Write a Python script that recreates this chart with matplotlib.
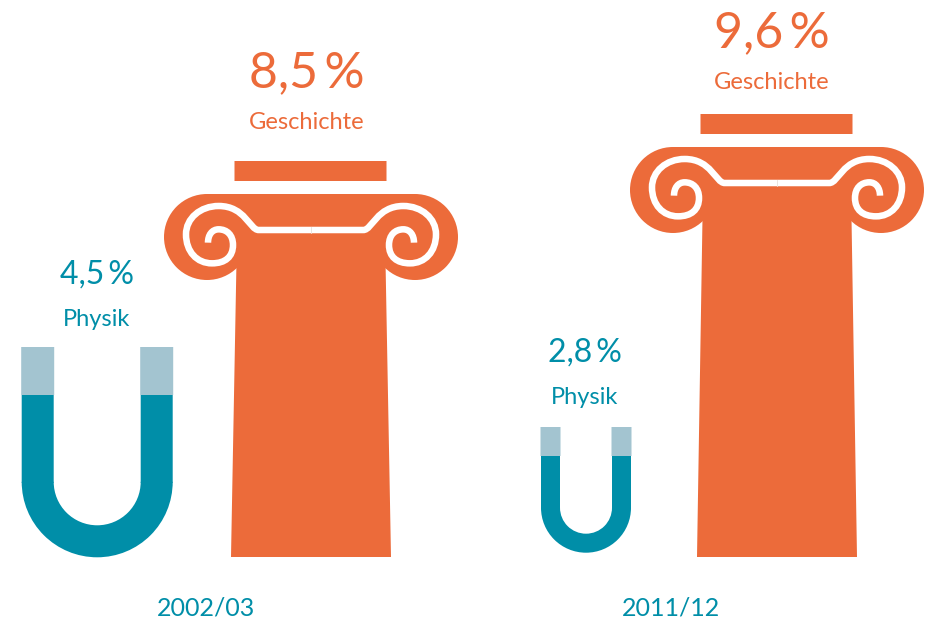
import numpy as np
import matplotlib.pyplot as plt
from matplotlib.patches import Circle, Rectangle, Polygon, Wedge, PathPatch
from matplotlib.path import Path

#Data
periods = ["2002/03", "2011/12"]
physik = [4.5, 2.8]
geschichte = [8.5, 9.6]

#Colours
orange = "#EC6B3A"
teal = "#008EA8"
light_teal = "#A3C4D0"

plt.rcParams['font.family'] = ['Lato', 'DejaVu Sans']

fig = plt.figure(figsize=(9.3, 6.2), dpi=100)
ax = fig.add_axes([0, 0, 1, 1])
ax.set_xlim(0, 930)
ax.set_ylim(620, 0)
ax.axis('off')


def pct(v):
    return f"{v:.1f}".replace('.', ',') + "\u2009%"


def draw_column(cx, top, base=557):
    #slab above the capital
    ax.add_patch(Rectangle((cx - 76.5, top), 152, 20, fc=orange, ec='none', snap=False))
    ctop = top + 33
    #capital
    for sx in (-1, 1):
        ax.add_patch(Circle((cx + sx * 104, ctop + 43), 43, fc=orange, ec='none'))
    ax.add_patch(Rectangle((cx - 104, ctop), 208, 43, fc=orange, ec='none', snap=False))
    #shaft
    ax.add_patch(Polygon([(cx - 74, ctop + 40), (cx + 74, ctop + 40),
                          (cx + 80, base), (cx - 80, base)], fc=orange, ec='none'))
    #white scroll, one half then mirrored
    pts = np.array([(482, 240), (325, 240),
                    (298, 240), (285, 168), (205, 168),
                    (150, 168), (107, 205), (107, 253),
                    (107, 305), (140, 340), (185, 340),
                    (225, 340), (248, 320), (248, 285),
                    (248, 255), (230, 238), (205, 238),
                    (185, 238), (173, 255), (173, 278)], dtype=float)
    codes = [Path.MOVETO, Path.LINETO] + [Path.CURVE4] * 18
    local = (pts - [482, 132]) / 3
    for sx in (-1, 1):
        verts = np.column_stack([cx + sx * local[:, 0], ctop + local[:, 1]])
        ax.add_patch(PathPatch(Path(verts, codes), fc='none', ec='white', lw=4.7, capstyle='butt'))
    ax.plot([cx, cx], [ctop + 33, ctop + 39], color='#E8E0DA', lw=0.6)


def draw_magnet(cx, top, split, bottom, outer, inner):
    cy = bottom - outer
    ax.add_patch(Wedge((cx, cy), outer, 0, 180, width=outer - inner, fc=teal, ec='none'))
    for sx in (-1, 1):
        x0 = cx + sx * (outer + inner) / 2 - (outer - inner) / 2
        ax.add_patch(Rectangle((x0, split), outer - inner, cy - split + 1, fc=teal, ec='none', snap=False))
        ax.add_patch(Rectangle((x0 - 0.5, top), outer - inner + 1, split - top, fc=light_teal, ec='none', snap=False))


#Pictograms
draw_column(311, 161)
draw_column(777, 114)
draw_magnet(97.2, 347, 395, 557.3, 75.5, 43.5)
draw_magnet(586, 427, 456, 552.7, 45, 26)

#Labels
ax.text(306.5, 87, pct(geschichte[0]), color=orange, fontsize=36, ha='center', va='baseline')
ax.text(306.5, 129, "Geschichte", color=orange, fontsize=17, ha='center', va='baseline')
ax.text(771.5, 47, pct(geschichte[1]), color=orange, fontsize=36, ha='center', va='baseline')
ax.text(771.5, 89, "Geschichte", color=orange, fontsize=17, ha='center', va='baseline')
ax.text(97, 284, pct(physik[0]), color=teal, fontsize=23, ha='center', va='baseline')
ax.text(97, 326, "Physik", color=teal, fontsize=17, ha='center', va='baseline')
ax.text(585, 362, pct(physik[1]), color=teal, fontsize=23, ha='center', va='baseline')
ax.text(585, 404, "Physik", color=teal, fontsize=17, ha='center', va='baseline')
ax.text(205.5, 615, periods[0], color=teal, fontsize=18, ha='center', va='baseline')
ax.text(671, 615, periods[1], color=teal, fontsize=18, ha='center', va='baseline')

plt.savefig("out.png", format="png", dpi=100)
